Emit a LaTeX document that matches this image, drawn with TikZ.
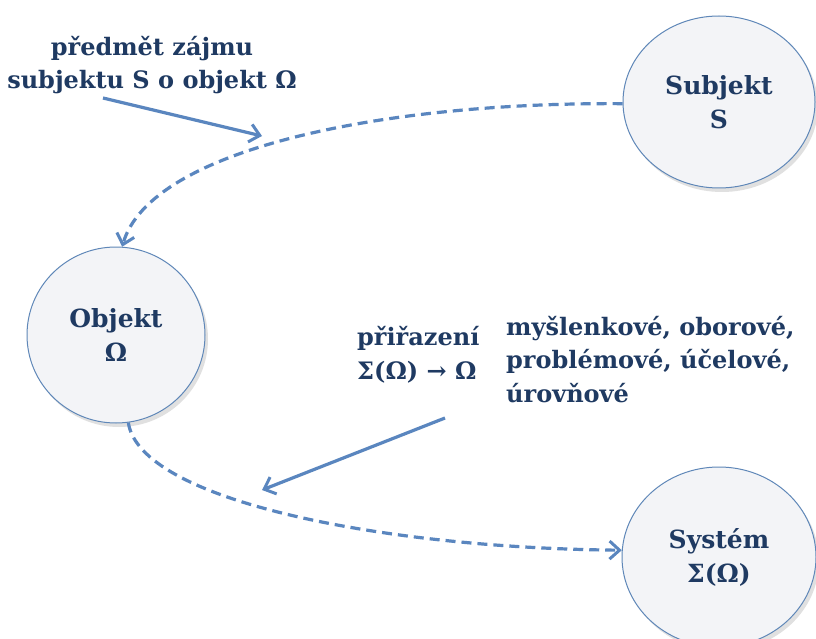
\documentclass[tikz,border=0pt]{standalone}
\usepackage{fontspec}
\setmainfont{DejaVu Serif}
\usetikzlibrary{arrows.meta,shapes.geometric}
\definecolor{txtblue}{HTML}{1F3A62}
\definecolor{linkblue}{HTML}{5A86BF}
\definecolor{rimblue}{HTML}{5F87B8}
\definecolor{ellfill}{HTML}{F3F4F7}
\tikzset{
  bubble/.style={ellipse, draw=rimblue, line width=1pt, fill=ellfill, align=center,
    font=\fontsize{25}{34}\selectfont\bfseries, text=txtblue, inner sep=0pt},
  bubshadow/.style={ellipse, fill=black!12, draw=none},
  lbl/.style={font=\fontsize{24}{33.5}\selectfont\bfseries, text=txtblue, inner sep=0pt},
  dashlink/.style={draw=linkblue, line width=3.2pt, dash pattern=on 10pt off 6pt,
    -{Straight Barb[length=10pt,width=18pt,line width=3pt]}},
  solidlink/.style={draw=linkblue, line width=3.2pt,
    -{Straight Barb[length=10pt,width=18pt,line width=3pt]}}
}
\begin{document}
\begin{tikzpicture}[x=1pt,y=-1pt]
\useasboundingbox (0,0) rectangle (816,639);
\fill[white] (0,0) rectangle (816,639);
% shadows
\node[bubshadow, minimum width=192pt, minimum height=172pt] at (722,106) {};
\node[bubshadow, minimum width=178pt, minimum height=176pt] at (119,339) {};
\node[bubshadow, minimum width=194pt, minimum height=180pt] at (722,561) {};
% bubbles
\node[bubble, minimum width=192pt, minimum height=172pt] (S) at (719,102) {Subjekt\\S};
\node[bubble, minimum width=178pt, minimum height=176pt] (O) at (116,335) {Objekt\\Ω};
\node[bubble, minimum width=194pt, minimum height=180pt] (Sys) at (719,557) {Systém\\Σ(Ω)};
% labels
\node[lbl, align=center] (L1) at (152,65) {předmět zájmu\\subjektu S o objekt Ω};
\node[lbl, align=left, anchor=west] (L2) at (357,355) {přiřazení\\Σ(Ω) → Ω};
\node[lbl, align=left, anchor=north west] (L3) at (506,316) {myšlenkové, oborové,\\problémové, účelové,\\úrovňové};
% connectors
\draw[dashlink] (S.181) .. controls (380,102) and (150,150) .. (O.86);
\draw[dashlink] (O.-82) .. controls (140,500) and (380,548) .. (Sys.176);
\coordinate (a1s) at (103,98);
\coordinate (a1e) at (262,136);
\coordinate (a2s) at (445,418);
\coordinate (a2e) at (262,490);
\draw[solidlink] (a1s) -- (a1e);
\draw[solidlink] (a2s) -- (a2e);
\end{tikzpicture}
\end{document}
